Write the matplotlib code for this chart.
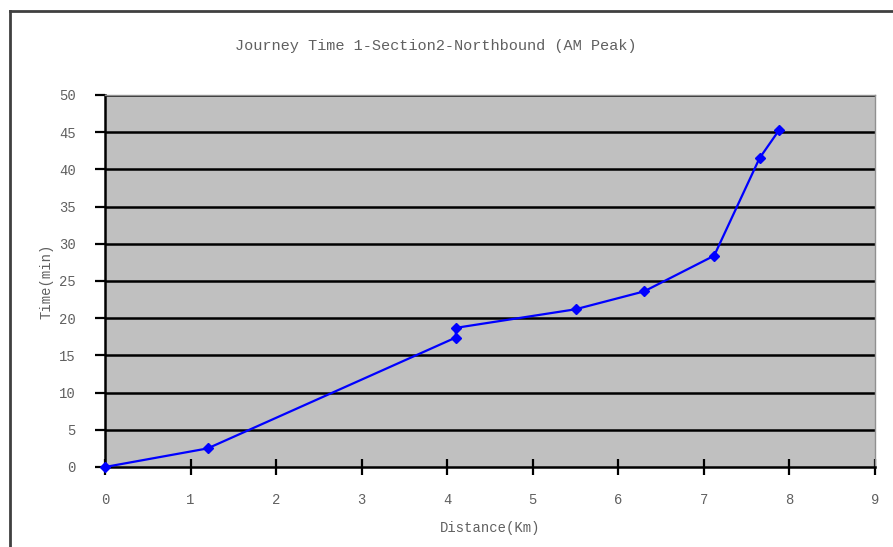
import matplotlib
matplotlib.use("Agg")
import matplotlib.pyplot as plt
from matplotlib.lines import Line2D
import numpy as np

distance_km = [0, 1.2, 4.1, 4.1, 5.5, 6.3, 7.12, 7.65, 7.88]
time_min = [0, 2.5, 17.4, 18.7, 21.2, 23.6, 28.4, 41.5, 45.3]
x_ticks = list(range(0, 10))
y_ticks = list(range(0, 55, 5))
title = "Journey Time 1-Section2-Northbound (AM Peak)"
x_label = "Distance(Km)"
y_label = "Time(min)"

W, H = 893, 547
fig = plt.figure(figsize=(W / 100, H / 100), dpi=100)
fig.patch.set_facecolor("white")
ax = fig.add_axes([105 / W, 1 - 467 / H, (875 - 105) / W, (467 - 95) / H])
ax.set_facecolor("#c0c0c0")

font = {"family": ["Liberation Mono", "DejaVu Sans Mono"], "color": "#606060"}

# gridlines drawn in black like the old spreadsheet chart
for y in y_ticks[1:]:
    ax.axhline(y, color="black", lw=1.8, zorder=1)

ax.plot(distance_km, time_min, color="#0000ff", lw=1.6, marker="D",
        markersize=5.5, zorder=3, clip_on=False)

ax.set_xlim(0, 9)
ax.set_ylim(0, 50)
ax.set_xticks(x_ticks)
ax.set_yticks(y_ticks)
ax.set_xticklabels([str(v) for v in x_ticks], fontdict=font, fontsize=10)
ax.set_yticklabels([str(v) for v in y_ticks], fontdict=font, fontsize=10)
ax.tick_params(axis="x", direction="inout", length=12, width=1.6, color="black", pad=13)
ax.tick_params(axis="y", direction="out", length=7, width=1.6, color="black", pad=14)

for side in ["left", "bottom"]:
    ax.spines[side].set_color("black")
    ax.spines[side].set_linewidth(1.8)
for side in ["top", "right"]:
    ax.spines[side].set_color("#909090")
    ax.spines[side].set_linewidth(1.0)

ax.set_xlabel(x_label, fontdict=font, fontsize=10, labelpad=10)
ax.set_ylabel(y_label, fontdict=font, fontsize=10, labelpad=4)
fig.text(436 / W, 1 - 46 / H, title, ha="center", va="center", fontdict=font, fontsize=11)

# outer chart frame (top and left edges visible)
fig.add_artist(Line2D([10 / W, 1.0], [1 - 11 / H, 1 - 11 / H], color="#404040", lw=2))
fig.add_artist(Line2D([10 / W, 10 / W], [0, 1 - 11 / H], color="#404040", lw=2))

fig.savefig("out.png", dpi=100)
